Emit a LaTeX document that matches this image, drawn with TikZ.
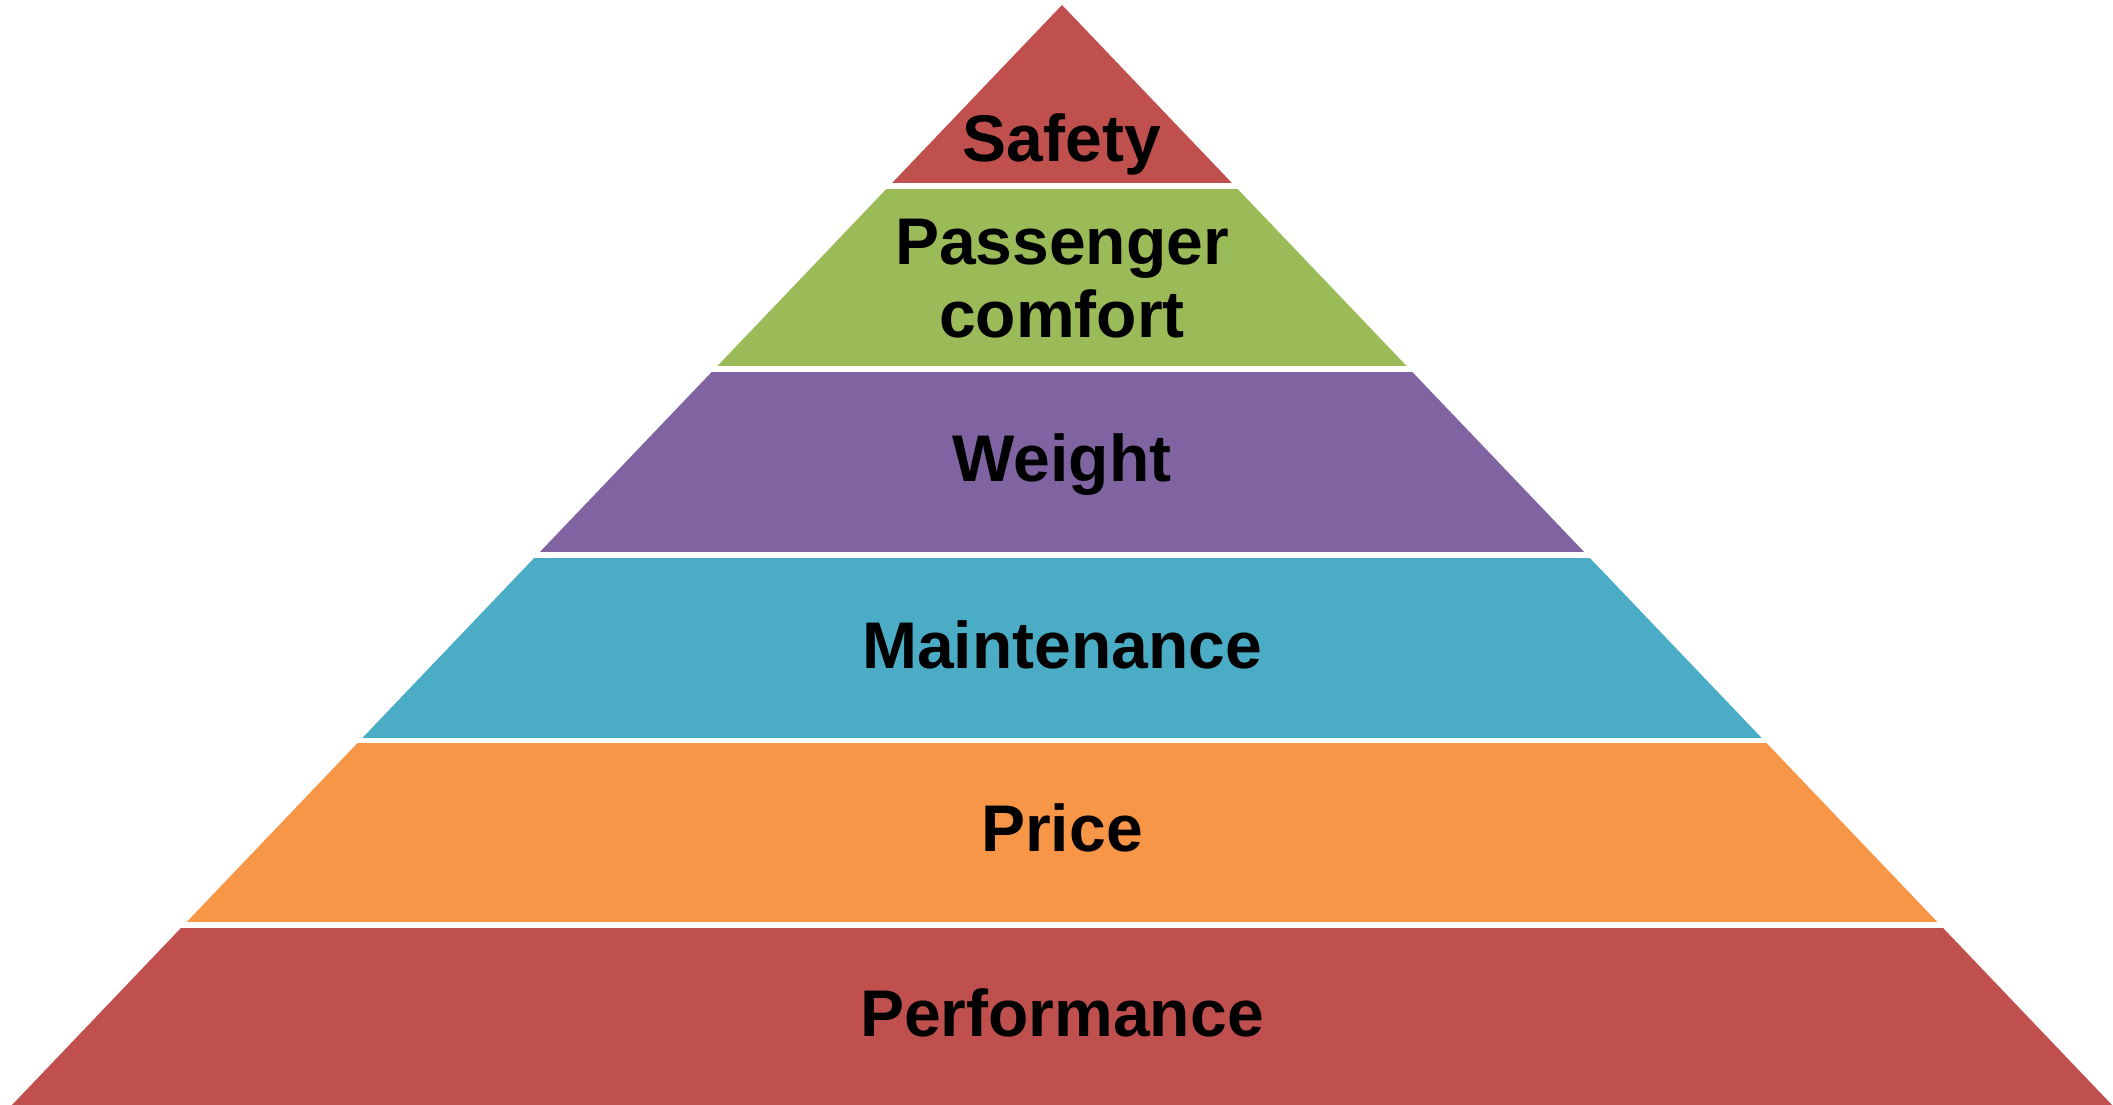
\documentclass[tikz,border=0pt]{standalone}
\usepackage{fontspec}
\setmainfont{Liberation Sans}
\definecolor{tierred}{HTML}{C0504D}
\definecolor{tiergreen}{HTML}{9BBB59}
\definecolor{tierpurple}{HTML}{8064A2}
\definecolor{tierteal}{HTML}{4BACC6}
\definecolor{tierorange}{HTML}{F79646}
\tikzset{
  tierlabel/.style={font=\fontsize{66}{73}\selectfont\bfseries, align=center, text=black},
  tiergap/.style={white, line width=5.5}
}
\begin{document}
\begin{tikzpicture}[x=1pt,y=-1pt]
  \useasboundingbox (0,0) rectangle (2113,1105);
  % bands of the pyramid
  \foreach \ytop/\ybot/\col in {0/186/tierred,186/369/tiergreen,369/555/tierpurple,555/740.5/tierteal,740.5/925/tierorange,925/1105/tierred}{
    \begin{scope}
      \clip (0,\ytop) rectangle (2113,\ybot);
      \fill[\col] (1062,5) -- (12,1105) -- (2112,1105) -- cycle;
    \end{scope}
  }
  % white gaps
  \foreach \y in {186,369,555,740.5,925}
    \draw[tiergap] (0,\y) -- (2113,\y);

  \node[tierlabel] (safety) at (1062,144) {Safety};
  \node[tierlabel] (comfort) at (1062,279) {Passenger\\comfort};
  \node[tierlabel] (weight) at (1062,465) {Weight};
  \node[tierlabel] (maintenance) at (1062,645) {Maintenance};
  \node[tierlabel] (price) at (1062,828) {Price};
  \node[tierlabel] (performance) at (1062,1013) {Performance};
\end{tikzpicture}
\end{document}
